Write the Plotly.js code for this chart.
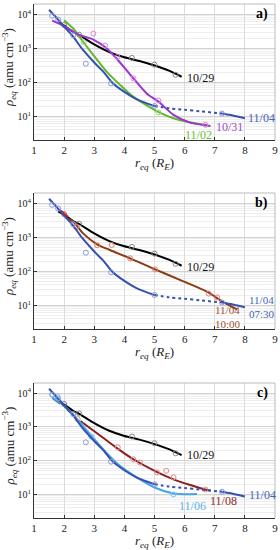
<!DOCTYPE html>
<html><head><meta charset="utf-8">
<script src="https://cdn.plot.ly/plotly-3.0.1.min.js"></script>
<style>html,body{margin:0;padding:0;background:#fff}#chart{width:280px;height:550px}</style>
</head><body><div id="chart"></div>
<script>
// ---- data (r_eq in R_E, rho_eq in amu cm^-3) ----
const r1029 = [1.8, 2.0, 2.3, 2.5, 3.0, 3.5, 4.0, 4.5, 5.0, 5.5, 5.9];
const rho1029 = [5800, 4600, 3000, 2450, 1300, 770, 540, 420, 310, 215, 145];
const r1029pts = [2.0, 2.5, 4.25, 5.0, 5.7];
const rho1029pts = [4800, 2500, 520, 330, 165];

const r1104a = [1.5, 1.75, 2.0, 2.3, 2.6, 3.0, 3.3, 3.6, 4.0, 4.4, 5.0];
const rho1104a = [13500, 7800, 4300, 2200, 950, 380, 205, 97, 52, 32, 20];
const r1104dot = [5.0, 5.5, 6.0, 6.5, 7.25];
const rho1104dot = [20, 17, 15.5, 14, 12];
const r1104b = [7.25, 7.6, 8.0];
const rho1104b = [12, 10.5, 8.7];
const r1104pts = [1.6, 1.8, 2.3, 2.72, 3.56, 5.0, 7.24];
const rho1104pts = [9000, 7000, 2400, 350, 93, 20, 12];

const r1102 = [2.0, 2.3, 2.63, 2.97, 3.41, 3.86, 4.3, 4.74, 5.19, 5.63, 6.19, 6.74];
const rho1102 = [6700, 3800, 1550, 630, 205, 83, 37, 21, 12.6, 8.7, 6.5, 5.5];
const r1102pts = [2.65, 5.13];
const rho1102pts = [1500, 13];

const r1031 = [1.6, 2.0, 2.3, 2.5, 2.97, 3.41, 3.74, 4.3, 4.74, 5.13, 5.63, 6.19, 6.86];
const rho1031 = [6500, 4500, 3100, 2450, 1800, 1000, 500, 130, 47, 27, 11, 6.5, 5.2];
const r1031pts = [2.97, 3.36, 3.77, 4.3, 5.13, 6.69];
const rho1031pts = [2700, 1200, 550, 130, 29, 5.6];

const r1104late = [2.13, 2.3, 2.63, 3.08, 3.52, 4.19, 5.02, 5.86, 6.74, 7.19, 7.74];
const rho1104late = [3500, 2900, 1300, 630, 420, 240, 113, 55, 25, 14, 7.5];
const r1104latePts = [2.4, 3.1, 3.58, 4.19, 5.02, 6.8, 7.08];
const rho1104latePts = [2000, 580, 590, 240, 113, 22, 17];
const r1104red = [1.86, 2.13];
const rho1104red = [6300, 4000];

const r1108 = [2.63, 3.08, 3.74, 4.3, 5.02, 5.63, 6.19, 6.74, 6.86];
const rho1108 = [1300, 660, 240, 110, 49, 28, 19, 13.5, 12.8];
const r1108dash = [1.63, 2.0, 2.3, 2.63];
const rho1108dash = [7000, 4000, 2300, 1300];
const r1108pts = [2.45, 3.78, 4.3, 4.52, 5.08, 5.39, 5.63, 6.69];
const rho1108pts = [1700, 250, 110, 88, 45, 50, 32, 14];

const r1106 = [1.6, 2.0, 2.3, 2.63, 2.97, 3.41, 3.86, 4.41, 5.0, 5.63, 6.41];
const rho1106 = [7500, 4200, 2300, 1050, 470, 170, 69, 32, 16, 10.7, 10.2];
const r1106pts = [1.62, 1.78, 2.9, 5.63];
const rho1106pts = [9000, 8000, 520, 10];

const xTicks = [1, 2, 3, 4, 5, 6, 7, 8, 9];
const yTickVals = [10, 100, 1000, 10000];
const yTickText = ['10<sup>1</sup>', '10<sup>2</sup>', '10<sup>3</sup>', '10<sup>4</sup>'];
const yMinorVals = [2,3,4,5,6,7,8,9,20,30,40,50,60,70,80,90,200,300,400,500,600,700,800,900,2000,3000,4000,5000,6000,7000,8000,9000,20000];

// ---- colours ----
const C = {
  black: '#000000', blue: '#3550b0', green: '#62b82a', purple: '#9a35d2',
  brown: '#8a3c14', red: '#e02020', maroon: '#8a1f24', lblue: '#45a6e6', dgreen: '#2e5a2a'
};

function line(x, y, color, ax, dash, width) {
  return {x: x, y: y, mode: 'lines', type: 'scatter', xaxis: 'x' + ax, yaxis: 'y' + ax,
    line: {color: color, width: width || 2, dash: dash || 'solid', shape: 'spline', smoothing: 0.8},
    hoverinfo: 'skip', showlegend: false};
}
function pts(x, y, color, ax) {
  return {x: x, y: y, mode: 'markers', type: 'scatter', xaxis: 'x' + ax, yaxis: 'y' + ax,
    marker: {symbol: 'circle-open', size: 5, color: color, line: {width: 1, color: color}},
    hoverinfo: 'skip', showlegend: false};
}
function blueSet(ax) {
  return [line(r1104a, rho1104a, C.blue, ax), line(r1104dot, rho1104dot, C.blue, ax, 'dot'),
          line(r1104b, rho1104b, C.blue, ax), pts(r1104pts, rho1104pts, '#8a9ad8', ax)];
}
function blackSet(ax) {
  return [line(r1029, rho1029, C.black, ax), pts(r1029pts, rho1029pts, '#888888', ax)];
}

const traces = [].concat(
  blackSet(''),
  [line(r1102, rho1102, C.green, ''), pts(r1102pts, rho1102pts, '#9ad07a', '')],
  [line(r1031, rho1031, C.purple, ''), pts(r1031pts, rho1031pts, '#e080e0', '')],
  blueSet(''),
  blackSet('2'),
  [line(r1104late, rho1104late, C.brown, '2'), pts(r1104latePts, rho1104latePts, '#e08070', '2'),
   line(r1104red, rho1104red, C.red, '2')],
  blueSet('2'),
  blackSet('3'),
  [line(r1108dash, rho1108dash, C.dgreen, '3', 'dash'), line(r1108, rho1108, C.maroon, '3'),
   pts(r1108pts, rho1108pts, '#e08888', '3')],
  [line(r1106, rho1106, C.lblue, '3'), pts(r1106pts, rho1106pts, '#80c4f0', '3')],
  blueSet('3')
);

const FONT = 'Liberation Serif';
const H = 550;
function xAx(anchor) {
  return {range: [1, 9], tickmode: 'array', tickvals: xTicks, ticktext: xTicks.map(String), anchor: anchor,
    showgrid: true, gridcolor: '#dcdcdc', gridwidth: 1, zeroline: false,
    showline: true, linecolor: '#333', linewidth: 1, ticks: 'inside', ticklen: 3, tickcolor: '#333',
    tickfont: {family: FONT, size: 11, color: '#222'}, fixedrange: true};
}
function yAx(anchor, top, bottom) {
  return {type: 'log', range: [Math.log10(2), Math.log10(20000)], anchor: anchor,
    domain: [1 - bottom / H, 1 - top / H],
    tickmode: 'array', tickvals: yTickVals, ticktext: yTickText,
    showgrid: true, gridcolor: '#d2d2d2', gridwidth: 1, zeroline: false,
    minor: {tickmode: 'array', tickvals: yMinorVals, showgrid: true, gridcolor: '#eeeeee', gridwidth: 1, ticks: ''},
    showline: true, linecolor: '#333', linewidth: 1, ticks: 'inside', ticklen: 3, tickcolor: '#333',
    tickfont: {family: FONT, size: 10, color: '#222'}, fixedrange: true};
}

const panels = [{ax: '', top: 4, bottom: 140, lab: 'a)'},
                {ax: '2', top: 193, bottom: 329, lab: 'b)'},
                {ax: '3', top: 383, bottom: 518, lab: 'c)'}];

const annotations = [];
const shapes = [];
function txt(ax, x, ylog, text, color, size) {
  annotations.push({xref: 'x' + ax, yref: 'y' + ax, x: x, y: ylog, text: text,
    showarrow: false, xanchor: 'left', yanchor: 'middle', align: 'left',
    font: {family: FONT, size: size || 12, color: color}});
}
panels.forEach(p => {
  const s = p.ax;
  annotations.push({xref: 'x' + s, yref: 'y' + s, x: 8.85, y: 4.0, text: '<b>' + p.lab + '</b>',
    showarrow: false, xanchor: 'right', yanchor: 'middle', font: {family: FONT, size: 14, color: '#000'}});
  annotations.push({xref: 'paper', yref: 'paper', x: 0.5, y: 1 - (p.bottom + 23) / H,
    text: '<i>r</i><sub><i>eq</i></sub> (<i>R</i><sub><i>E</i></sub>)', showarrow: false,
    xanchor: 'center', yanchor: 'middle', font: {family: FONT, size: 13, color: '#222'}});
  annotations.push({xref: 'paper', yref: 'paper', x: (9 - 34) / 241, y: 1 - ((p.top + p.bottom) / 2 - 4) / H,
    text: '<i>ρ</i><sub><i>eq</i></sub> (amu cm<sup>−3</sup>)', showarrow: false, textangle: -90,
    xanchor: 'center', yanchor: 'middle', font: {family: FONT, size: 13, color: '#222'}});
  shapes.push({type: 'line', xref: 'x' + s + ' domain', yref: 'y' + s + ' domain', x0: 0, x1: 1, y0: 1, y1: 1,
    line: {color: '#bbbbbb', width: 1}});
  shapes.push({type: 'line', xref: 'x' + s + ' domain', yref: 'y' + s + ' domain', x0: 1, x1: 1, y0: 0, y1: 1,
    line: {color: '#bbbbbb', width: 1}});
});

txt('', 6.02, 2.12, '10/29', '#111');
txt('', 8.03, 0.95, '11/04', '#4563b8');
txt('', 6.98, 0.68, '10/31', '#a04cc8');
txt('', 5.95, 0.45, '11/02', '#6cbf2a');

txt('2', 6.02, 2.12, '10/29', '#111');
txt('2', 8.07, 0.95, '11/04<br>07:30', '#4563b8', 11);
txt('2', 6.94, 0.66, '11/04<br>10:00', '#a0502c', 11);

txt('3', 6.02, 2.18, '10/29', '#111');
txt('3', 6.79, 0.81, '11/08', '#8a2a2a');
txt('3', 5.74, 0.66, '11/06', '#5ab0e6');
txt('3', 8.06, 0.98, '11/04', '#4563b8');

const layout = {
  width: 280, height: 550, margin: {l: 34, r: 5, t: 0, b: 0},
  font: {family: FONT, size: 10, color: '#222'},
  paper_bgcolor: '#ffffff', plot_bgcolor: '#ffffff', showlegend: false,
  xaxis: xAx('y'), xaxis2: xAx('y2'), xaxis3: xAx('y3'),
  yaxis: yAx('x', 4, 140), yaxis2: yAx('x2', 193, 329), yaxis3: yAx('x3', 383, 518),
  annotations: annotations, shapes: shapes
};

Plotly.newPlot('chart', traces, layout, {staticPlot: true, displayModeBar: false});
</script></body></html>
